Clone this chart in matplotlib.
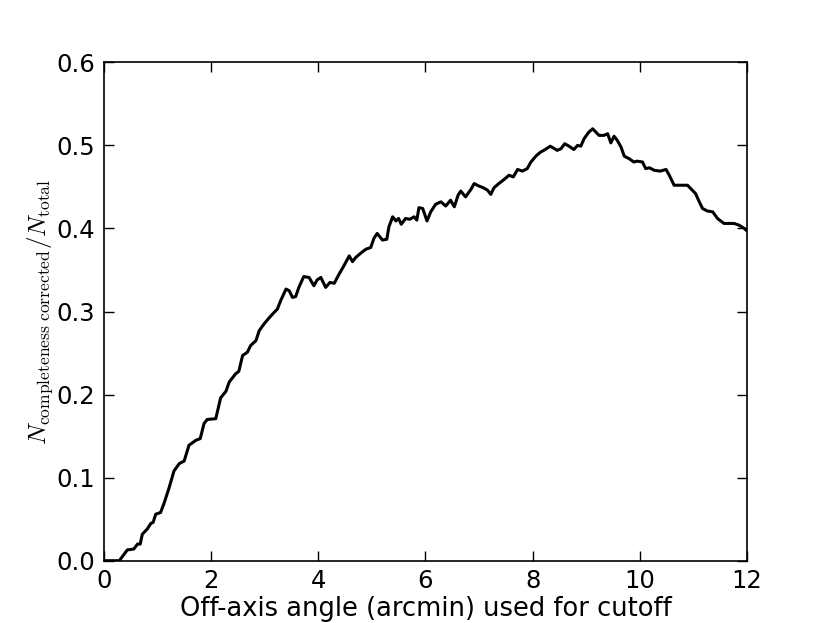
import matplotlib
matplotlib.use("Agg")
import matplotlib.pyplot as plt
import numpy as np

angle = [0.0, 0.29, 0.36, 0.44, 0.56, 0.63, 0.68, 0.72, 0.81, 0.88, 0.92, 0.97, 1.06, 1.13, 1.22, 1.31,
         1.41, 1.50, 1.59, 1.72, 1.80, 1.87, 1.93, 2.09, 2.18, 2.28, 2.34, 2.46, 2.52, 2.59, 2.68,
         2.74, 2.84, 2.90, 2.99, 3.08, 3.18, 3.24, 3.30, 3.40, 3.46, 3.52, 3.58, 3.64, 3.73, 3.83,
         3.92, 3.98, 4.05, 4.14, 4.22, 4.30, 4.39, 4.48, 4.58, 4.64, 4.70, 4.79, 4.89, 4.98, 5.04,
         5.10, 5.20, 5.28, 5.32, 5.39, 5.45, 5.50, 5.55, 5.63, 5.71, 5.79, 5.84, 5.88, 5.95, 6.03,
         6.10, 6.19, 6.29, 6.38, 6.47, 6.54, 6.61, 6.66, 6.75, 6.85, 6.91, 7.00, 7.08, 7.16, 7.22,
         7.28, 7.37, 7.47, 7.56, 7.64, 7.72, 7.81, 7.90, 7.97, 8.06, 8.15, 8.21, 8.33, 8.46, 8.53,
         8.60, 8.68, 8.77, 8.84, 8.90, 8.96, 9.05, 9.12, 9.18, 9.24, 9.33, 9.40, 9.46, 9.52, 9.58,
         9.65, 9.71, 9.80, 9.89, 9.95, 10.05, 10.11, 10.18, 10.27, 10.38, 10.49, 10.55, 10.64, 10.89,
         10.98, 11.04, 11.11, 11.17, 11.26, 11.36, 11.45, 11.57, 11.76, 11.85, 11.95, 12.0]
fraction = [0.0, 0.0, 0.006, 0.013, 0.014, 0.02, 0.02, 0.032, 0.038, 0.045, 0.046, 0.056, 0.058, 0.07, 0.088, 0.108,
            0.117, 0.12, 0.139, 0.145, 0.147, 0.165, 0.17, 0.171, 0.196, 0.204, 0.215, 0.225, 0.228, 0.247, 0.251,
            0.259, 0.265, 0.277, 0.285, 0.292, 0.299, 0.303, 0.313, 0.327, 0.325, 0.317, 0.318, 0.329, 0.342, 0.341,
            0.331, 0.338, 0.341, 0.329, 0.335, 0.334, 0.345, 0.355, 0.367, 0.360, 0.365, 0.370, 0.375, 0.377, 0.388,
            0.394, 0.386, 0.387, 0.402, 0.414, 0.409, 0.412, 0.405, 0.412, 0.411, 0.414, 0.410, 0.425, 0.424, 0.409,
            0.420, 0.429, 0.432, 0.427, 0.434, 0.426, 0.440, 0.445, 0.438, 0.447, 0.454, 0.451, 0.449, 0.446, 0.441,
            0.449, 0.454, 0.459, 0.464, 0.462, 0.471, 0.469, 0.472, 0.480, 0.487, 0.492, 0.494, 0.499, 0.494, 0.496,
            0.502, 0.499, 0.495, 0.500, 0.499, 0.508, 0.516, 0.520, 0.516, 0.512, 0.512, 0.514, 0.503, 0.511, 0.506,
            0.498, 0.487, 0.484, 0.480, 0.481, 0.480, 0.472, 0.473, 0.470, 0.469, 0.471, 0.464, 0.452, 0.452,
            0.446, 0.442, 0.432, 0.424, 0.421, 0.420, 0.412, 0.406, 0.406, 0.404, 0.400, 0.397]

x_ticks = [0, 2, 4, 6, 8, 10, 12]
y_ticks = [0.0, 0.1, 0.2, 0.3, 0.4, 0.5, 0.6]

plt.rcParams['mathtext.fontset'] = 'cm'
plt.rcParams['font.family'] = 'DejaVu Sans'

fig = plt.figure(figsize=(8.3, 6.23), dpi=100)
ax = fig.add_axes([0.125, 0.1, 0.775, 0.8])
ax.plot(angle, fraction, color='black', lw=2.2)
ax.set_xlim(0, 12)
ax.set_ylim(0, 0.6)
ax.set_xticks(x_ticks)
ax.set_yticks(y_ticks)
ax.set_xticklabels([str(t) for t in x_ticks])
ax.set_yticklabels(["%.1f" % t for t in y_ticks])
ax.tick_params(direction='in', top=True, right=True, length=7, width=1, labelsize=17.5, pad=6)
for s in ax.spines.values():
    s.set_linewidth(1.2)
ax.set_xlabel('Off-axis angle (arcmin) used for cutoff', fontsize=18.5, labelpad=2)
ax.set_ylabel(r'$N_{\rm completeness\ corrected}/N_{\rm total}$', fontsize=18, labelpad=1)
fig.savefig('out.png', dpi=100)
